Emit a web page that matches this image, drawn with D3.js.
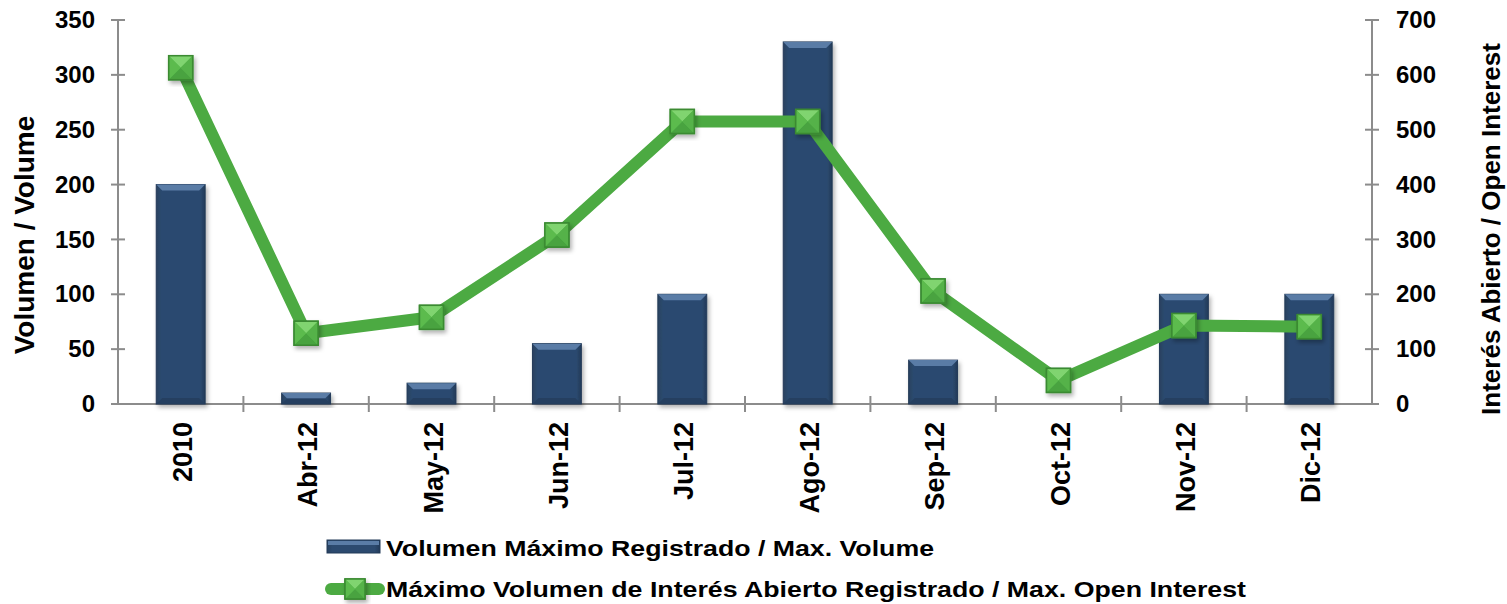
<!DOCTYPE html>
<html><head><meta charset="utf-8">
<script src="https://cdn.jsdelivr.net/npm/d3@7"></script>
<style>body{margin:0;background:#fff}text{font-family:"Liberation Sans",Arial,sans-serif;font-weight:bold;fill:#000}</style>
</head><body>
<svg id="c" width="1507" height="604"></svg>
<script>
const categories = ["2010","Abr-12","May-12","Jun-12","Jul-12","Ago-12","Sep-12","Oct-12","Nov-12","Dic-12"];
const volume = [200,10,19,55,100,330,40,0,100,100];
const openInterest = [613,129,158,308,515,515,206,43,143,141];
const leftTicks = [0,50,100,150,200,250,300,350];
const rightTicks = [0,100,200,300,400,500,600,700];
const seriesNames = ["Volumen Máximo Registrado / Max. Volume","Máximo Volumen de Interés Abierto Registrado / Max. Open Interest"];

const svg = d3.select("#c");
const L=118,R=1372,T=20,B=404;
const x = d3.scaleBand().domain(categories).range([L,R]).paddingInner(0.61).paddingOuter(0.305);
const xb = d3.scaleBand().domain(categories).range([L,R]);
const yL = d3.scaleLinear().domain([0,350]).range([B,T]);
const yR = d3.scaleLinear().domain([0,700]).range([B,T]);

const defs = svg.append("defs");
const f = defs.append("filter").attr("id","sh").attr("x","-30%").attr("y","-30%").attr("width","160%").attr("height","160%");
f.append("feDropShadow").attr("dx",2).attr("dy",3).attr("stdDeviation",2).attr("flood-color","#000").attr("flood-opacity",0.3);
const gb = defs.append("linearGradient").attr("id","bg").attr("x1",0).attr("x2",1).attr("y1",0).attr("y2",0);
gb.append("stop").attr("offset","0").attr("stop-color","#28415f");
gb.append("stop").attr("offset","0.1").attr("stop-color","#2c4a6f");
gb.append("stop").attr("offset","0.9").attr("stop-color","#2c4a6f");
gb.append("stop").attr("offset","1").attr("stop-color","#223a58");

const gridColor="#8c8c8c";
// axes
const axL = svg.append("g").attr("transform",`translate(${L},0)`).call(d3.axisLeft(yL).tickValues(leftTicks).tickSize(0).tickPadding(20));
axL.select(".domain").remove();
const axR = svg.append("g").attr("transform",`translate(${R},0)`).call(d3.axisRight(yR).tickValues(rightTicks).tickSize(0).tickPadding(24));
axR.select(".domain").remove();
[axL,axR].forEach(a=>a.selectAll("text").style("font-size","24px").style("font-family","Liberation Sans, Arial").style("font-weight","bold").attr("fill","#000"));
axL.selectAll("text").attr("dx",-3);

const axes = svg.append("g").attr("stroke",gridColor).attr("stroke-width",2);
axes.append("line").attr("x1",L).attr("x2",L).attr("y1",T).attr("y2",B);
axes.append("line").attr("x1",R).attr("x2",R).attr("y1",T).attr("y2",B);
axes.append("line").attr("x1",L-6).attr("x2",R).attr("y1",B).attr("y2",B);
axes.selectAll(".tl").data(leftTicks).join("line").attr("x1",L-7).attr("x2",L+7).attr("y1",d=>yL(d)).attr("y2",d=>yL(d));
axes.selectAll(".tr").data(rightTicks).join("line").attr("x1",R-7).attr("x2",R+7).attr("y1",d=>yR(d)).attr("y2",d=>yR(d));
axes.selectAll(".tb").data(categories.slice(1)).join("line").attr("x1",d=>xb(d)).attr("x2",d=>xb(d)).attr("y1",B-8).attr("y2",B+8);

// bars
const bars = svg.append("g");
categories.forEach((c,i)=>{
  const v=volume[i]; if(v<=0) return;
  const x0=x(c), w=x.bandwidth(), y0=yL(v), h=B-y0;
  const g=bars.append("g");
  g.append("rect").attr("x",x0).attr("y",y0).attr("width",w).attr("height",h).attr("fill","url(#bg)").attr("stroke","#223a58").attr("stroke-width",1).attr("filter","url(#sh)");
  const bv=Math.min(6,h/2);
  g.append("path").attr("d",`M${x0},${y0}L${x0+w},${y0}L${x0+w-bv},${y0+bv}L${x0+bv},${y0+bv}Z`).attr("fill","#5a7ca6");
  g.append("path").attr("d",`M${x0},${B}L${x0+w},${B}L${x0+w-bv},${B-bv}L${x0+bv},${B-bv}Z`).attr("fill","#243d5c").attr("opacity",0.8);
});

// line
const cx = c=>xb(c)+xb.bandwidth()/2;
svg.append("path").datum(openInterest).attr("fill","none").attr("stroke","#4caa42").attr("stroke-width",12).attr("stroke-linejoin","round")
  .attr("d",d3.line().x((d,i)=>cx(categories[i])).y(d=>yR(d)));

function marker(g,mx,my,s){
  const h=s/2;
  const m=g.append("g").attr("filter","url(#sh)");
  m.append("rect").attr("x",mx-h).attr("y",my-h).attr("width",s).attr("height",s).attr("fill","#52b347").attr("stroke","#3a8a32").attr("stroke-width",1.5);
  m.append("path").attr("d",`M${mx-h},${my-h}L${mx+h},${my-h}L${mx},${my}Z`).attr("fill","#80d46f");
  m.append("path").attr("d",`M${mx-h},${my+h}L${mx+h},${my+h}L${mx},${my}Z`).attr("fill","#49a33f");
  m.append("path").attr("d",`M${mx-h},${my-h}L${mx-h},${my+h}L${mx},${my}Z`).attr("fill","#5bbb4e");
  m.append("path").attr("d",`M${mx+h},${my-h}L${mx+h},${my+h}L${mx},${my}Z`).attr("fill","#55b249");
  m.append("rect").attr("x",mx-h).attr("y",my-h).attr("width",s).attr("height",s).attr("fill","none").attr("stroke","#3a8a32").attr("stroke-width",1.5);
}
const mk = svg.append("g");
openInterest.forEach((v,i)=>marker(mk,cx(categories[i]),yR(v),24));

// x labels
svg.append("g").selectAll("text").data(categories).join("text")
  .attr("transform",d=>`translate(${cx(d)+11},${B+18}) rotate(-90)`)
  .attr("text-anchor","end").style("font-size","27px").text(d=>d);

// axis titles
svg.append("text").attr("transform",`translate(34,235) rotate(-90)`).attr("text-anchor","middle").style("font-size","28px").text("Volumen / Volume");
svg.append("text").attr("transform",`translate(1500,229) rotate(-90)`).attr("text-anchor","middle").style("font-size","26px").text("Interés Abierto / Open Interest");

// legend
const lg = svg.append("g");
const lb = lg.append("g");
lb.append("rect").attr("x",327).attr("y",540).attr("width",53).attr("height",13).attr("fill","url(#bg)").attr("stroke","#223a58");
lb.append("rect").attr("x",328).attr("y",541).attr("width",51).attr("height",4).attr("fill","#5a7ca6");
lg.append("text").attr("x",386).attr("y",556).style("font-size","21.5px")
  .attr("textLength",548).attr("lengthAdjust","spacingAndGlyphs").text(seriesNames[0]);
lg.append("line").attr("x1",331).attr("x2",379).attr("y1",589).attr("y2",589).attr("stroke","#4caa42").attr("stroke-width",12).attr("stroke-linecap","round");
marker(lg,355,589,20);
lg.append("text").attr("x",386).attr("y",597).style("font-size","21.5px")
  .attr("textLength",860).attr("lengthAdjust","spacingAndGlyphs").text(seriesNames[1]);
</script>
</body></html>
